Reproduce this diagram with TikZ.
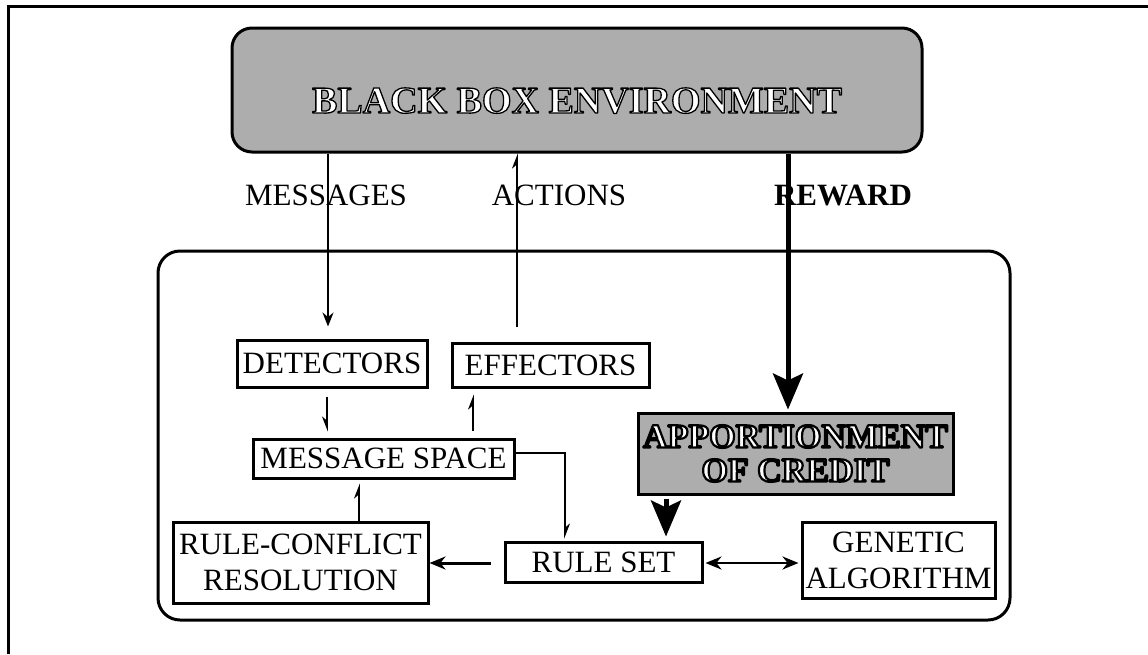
\documentclass[tikz,border=0pt]{standalone}
\usepackage{fontspec}
\setmainfont{Liberation Serif}
\usetikzlibrary{arrows.meta}
% hollow letters: fill white, stroke black (text render mode 2)
\newcommand\hollow[2]{\special{pdf:code 2 Tr #1 w 1 j 1 g 0 G}#2}
\newcommand\labfont{\fontsize{31}{36}\selectfont}
\tikzset{
  stepbox/.style={draw, line width=3pt, inner sep=0pt, align=center, font=\labfont},
  shadebox/.style={stepbox, fill=black!32},
  flowlabel/.style={inner sep=0pt, font=\labfont},
  thinarr/.style={line width=1.6pt, -{Stealth[length=13pt,width=10pt,harpoon]}},
  thinarrsw/.style={line width=1.6pt, -{Stealth[length=13pt,width=10pt,harpoon,swap]}},
  fullarr/.style={line width=1.6pt, -{Stealth[length=14pt,width=11pt]}},
  midarr/.style={line width=3pt, -{Stealth[length=16pt,width=13pt]}},
  duoarr/.style={line width=2.8pt, {Stealth[length=16pt,width=13pt]}-{Stealth[length=16pt,width=13pt]}},
  fatarr/.style={line width=5pt, -{Stealth[length=36pt,width=30pt,inset=7pt]}},
}
\begin{document}
\begin{tikzpicture}[x=1pt, y=-1pt]
\useasboundingbox (0,0) rectangle (1148,654);
% page frame
\draw[line width=3pt] (8,654) -- (8,6) -- (1148,6);

% environment
\node[draw, line width=3pt, fill=black!32, rounded corners=20pt,
      minimum width=690pt, minimum height=124pt, inner sep=0pt]
      (env) at (577,90) {\raisebox{-23pt}[0pt][0pt]{\fontsize{38}{40}\bfseries\hollow{1.3}{BLACK BOX ENVIRONMENT}}};

% classifier system
\draw[line width=3pt, rounded corners=22pt] (158,251) rectangle (1010,620);

\node[flowlabel] (lmsg) at (326,195) {MESSAGES};
\node[flowlabel] (lact) at (559,195) {ACTIONS};
\node[flowlabel, font=\labfont\bfseries] (lrew) at (843,195) {REWARD};

\node[stepbox, minimum width=190pt, minimum height=47pt] (det) at (332,363.5) {DETECTORS};
\node[stepbox, minimum width=197pt, minimum height=44pt] (eff) at (550.5,365) {EFFECTORS};
\node[stepbox, minimum width=261pt, minimum height=39pt] (ms) at (383.5,458.5) {MESSAGE SPACE};
\node[shadebox, minimum width=315pt, minimum height=81pt, font=\fontsize{34}{34}\bfseries]
      (app) at (795.5,453.5) {\hollow{2.2}{APPORTIONMENT\\OF CREDIT}};
\node[stepbox, minimum width=255pt, minimum height=81pt] (rcr) at (300.5,562.5) {RULE-CONFLICT\\RESOLUTION};
\node[stepbox, minimum width=197pt, minimum height=40pt] (rs) at (603.5,562) {RULE SET};
\node[stepbox, minimum width=193pt, minimum height=76pt] (gen) at (898.5,560) {GENETIC\\ALGORITHM};

% connectors
\draw[fullarr] ([xshift=-4pt]det.north |- env.south) -- ([xshift=-4pt,yshift=12pt]det.north);
\draw[thinarr] ([xshift=-33.5pt,yshift=15pt]eff.north) -- ([xshift=-33.5pt]eff.north |- env.south);
\draw[fatarr] ([xshift=-7.5pt]app.north |- env.south) -- ([xshift=-7.5pt,yshift=2pt]app.north);

\draw[thinarrsw] ([xshift=-5pt,yshift=-8pt]det.south) -- ([xshift=-5pt,yshift=6pt]det.south |- ms.north);
\draw[thinarr] ([xshift=-77.5pt,yshift=7pt]eff.south |- ms.north) -- ([xshift=-77.5pt,yshift=-6pt]eff.south);
\draw[thinarr] ([yshift=5.5pt]ms.east) -| ([xshift=-38.5pt,yshift=2pt]rs.north);
\draw[thinarr] ([xshift=58.5pt]rcr.north) -- ([xshift=58.5pt,yshift=-4pt]rcr.north |- ms.south);

\draw[fatarr] ([xshift=-129.5pt,yshift=-3pt]app.south) -- ([xshift=-129.5pt,yshift=4pt]app.south |- rs.north);
\draw[midarr] ([xshift=-13pt,yshift=-1pt]rs.west) -- ([yshift=-1pt]rs.west -| rcr.east);
\draw[duoarr] ([xshift=2pt,yshift=-1pt]rs.east) -- ([xshift=-2pt,yshift=-1pt]rs.east -| gen.west);
\end{tikzpicture}
\end{document}
